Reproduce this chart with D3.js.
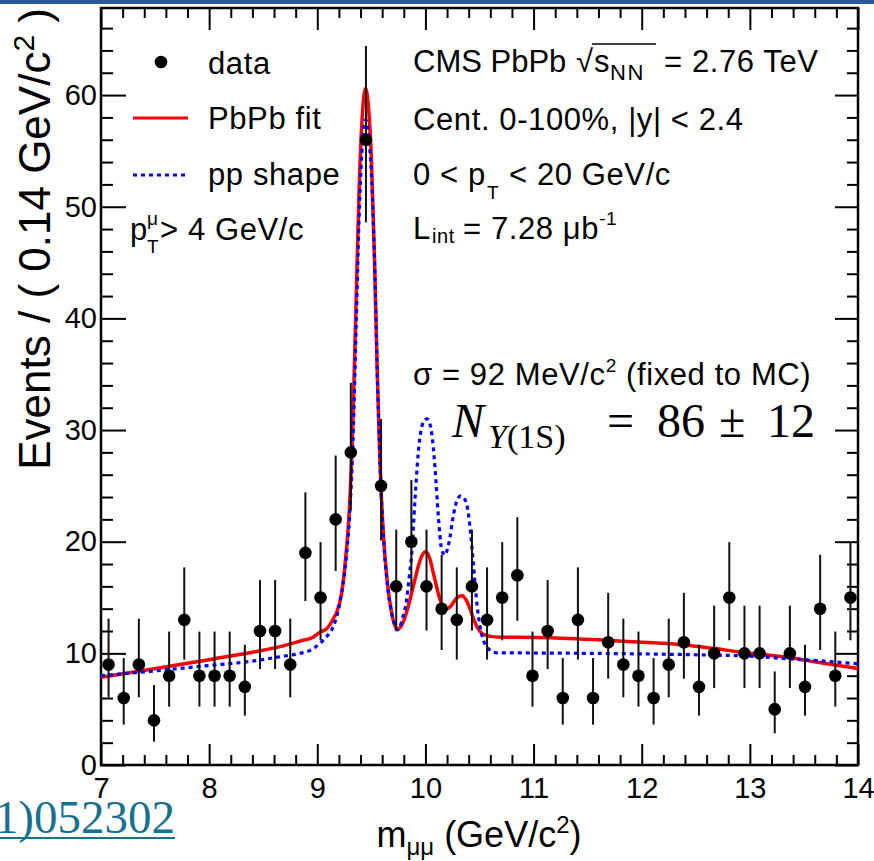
<!DOCTYPE html>
<html><head><meta charset="utf-8">
<script src="https://cdn.jsdelivr.net/npm/d3@7"></script>
<style>
html,body{margin:0;padding:0;background:#fff;}
svg text{font-family:"Liberation Sans",Arial,Helvetica,sans-serif;fill:#000;}
.serif{font-family:"Liberation Serif","DejaVu Serif",serif !important;}
.lab{letter-spacing:0.6px;}
</style></head>
<body>
<svg id="c" width="874" height="861"></svg>
<script>
// ---------- DATA ----------
const binCenters = [7.07,7.21,7.35,7.49,7.63,7.77,7.91,8.05,8.19,8.33,8.47,8.61,8.75,8.89,9.03,9.17,9.31,9.45,9.59,9.73,9.87,10.01,10.15,10.29,10.43,10.57,10.71,10.85,10.99,11.13,11.27,11.41,11.55,11.69,11.83,11.97,12.11,12.25,12.39,12.53,12.67,12.81,12.95,13.09,13.23,13.37,13.51,13.65,13.79,13.93];
const counts = [9,6,9,4,8,13,8,8,8,7,12,12,9,19,15,22,28,56,25,16,20,16,14,13,16,13,15,17,8,12,6,13,6,11,9,8,6,9,11,7,10,15,10,10,5,10,7,14,8,15];
const errLo = [2.94,2.38,2.94,1.91,2.77,3.56,2.77,2.77,2.77,2.58,3.41,3.41,2.94,4.31,3.83,4.62,5.16,7.4,4.90,3.96,4.42,3.96,3.70,3.56,3.96,3.56,3.83,4.08,2.77,3.41,2.38,3.56,2.38,3.27,2.94,2.77,2.38,2.94,3.27,2.58,3.11,3.83,3.11,3.11,2.16,3.11,2.58,3.70,2.77,3.83];
const errHi = [4.11,3.58,4.11,3.16,3.95,4.70,3.95,3.95,3.95,3.77,4.56,4.56,4.11,5.42,4.96,5.72,6.24,8.4,5.99,5.08,5.52,5.08,4.83,4.70,5.08,4.70,4.96,5.20,3.95,4.56,3.58,4.70,3.58,4.42,4.11,3.95,3.58,4.11,4.42,3.77,4.27,4.96,4.27,4.27,3.38,4.27,3.77,4.83,3.95,4.96];

const fitMass = [7.0,7.42,8.04,8.4,8.655,8.84,8.96,9.025,9.087,9.148,9.18,9.225,9.255,9.28,9.30,9.318,9.333,9.36,9.39,9.42,9.447,9.475,9.50,9.53,9.555,9.58,9.611,9.648,9.688,9.74,9.78,9.82,9.857,9.9,9.934,9.97,10.005,10.04,10.073,10.105,10.135,10.165,10.197,10.24,10.274,10.31,10.341,10.375,10.412,10.445,10.474,10.51,10.551,10.6,10.69,11.06,11.71,12.0,12.4,12.66,12.96,13.2,13.37,13.6,13.79,14.0];
const fitVal  = [7.85,8.5,9.5,10.1,10.6,11.1,11.45,11.9,12.2,13.1,13.7,15.4,17.8,20.5,23.5,27.5,32.0,42,52.5,58.7,60.6,58.7,54.5,45,35,27,20.7,16.3,13.6,12.15,12.5,13.5,14.8,16.5,17.8,18.8,19.1,18.5,17.2,15.9,14.8,14.2,14.0,14.3,14.8,15.1,15.15,14.8,14.0,13.1,12.4,11.9,11.64,11.52,11.45,11.43,11.15,11.0,10.75,10.45,10.05,9.8,9.6,9.25,8.95,8.64];

const ppMass = [7.0,7.42,8.04,8.4,8.655,8.84,8.96,9.025,9.087,9.148,9.195,9.225,9.25,9.27,9.30,9.33,9.36,9.39,9.42,9.447,9.475,9.50,9.53,9.555,9.58,9.611,9.648,9.688,9.715,9.735,9.76,9.79,9.826,9.85,9.872,9.903,9.934,9.96,9.985,10.017,10.04,10.058,10.088,10.12,10.15,10.18,10.205,10.227,10.25,10.274,10.3,10.326,10.355,10.381,10.4,10.418,10.44,10.458,10.48,10.505,10.535,10.567,10.61,10.66,11.0,11.5,12.0,12.6,13.0,13.37,13.7,14.0];
const ppVal  = [8.0,8.36,8.95,9.3,9.7,10.0,10.4,10.9,11.5,12.4,13.9,15.4,17.0,18.8,22.5,29.0,39.5,50,56,57.8,56.3,53,45,35,27,20.5,16.2,13.6,12.6,12.1,12.3,13.2,14.8,16.8,18.8,23.7,28.0,30.0,30.8,31.0,30.6,29.7,26.7,22.2,19.3,18.8,19.4,20.4,21.9,23.1,23.9,24.1,23.9,23.4,22.3,20.7,18.4,16.3,14.1,12.4,11.2,10.6,10.2,10.05,10.03,10.0,9.95,9.85,9.75,9.5,9.3,9.05];

const xMajor = [7,8,9,10,11,12,13,14];
const yMajor = [0,10,20,30,40,50,60];
const xDomain = [7,14];
const yDomain = [0,67.8];

// ---------- LAYOUT ----------
const svg = d3.select("#c");
const L=101, R=858, T=8, B=765;
const x = d3.scaleLinear().domain(xDomain).range([L,R]);
const y = d3.scaleLinear().domain(yDomain).range([B,T]);

svg.append("rect").attr("x",0).attr("y",0).attr("width",874).attr("height",4).attr("fill","#2b5797");

svg.append("text").attr("class","serif").attr("x",175).attr("y",833).attr("text-anchor","end")
  .style("font-size","47px").style("fill","#17708f").text("1)052302");
svg.append("line").attr("x1",0).attr("x2",175).attr("y1",838).attr("y2",838).attr("stroke","#17708f").attr("stroke-width",2);

const xMinor = d3.range(35,71).map(d=>d/5).filter(v=>!xMajor.includes(v));
const yMinor = d3.range(0,34).map(d=>d*2).filter(v=>!yMajor.includes(v) && v<=yDomain[1]);

function styleAxis(g){ g.select(".domain").remove(); g.selectAll("line").attr("stroke","#000").attr("stroke-width",2); }

svg.append("g").attr("transform",`translate(0,${B})`)
  .call(d3.axisBottom(x).tickValues(xMajor).tickSize(-21).tickPadding(12).tickFormat(d3.format("d")))
  .call(styleAxis).call(g=>g.selectAll("text").style("font-size","29px").attr("font-family",null));
svg.append("g").attr("transform",`translate(0,${B})`)
  .call(d3.axisBottom(x).tickValues(xMinor).tickSize(-10).tickFormat(""))
  .call(styleAxis);
svg.append("g").attr("transform",`translate(0,${T})`)
  .call(d3.axisTop(x).tickValues(xMajor).tickSize(-22).tickFormat("")).call(styleAxis);
svg.append("g").attr("transform",`translate(0,${T})`)
  .call(d3.axisTop(x).tickValues(xMinor).tickSize(-10).tickFormat("")).call(styleAxis);
svg.append("g").attr("transform",`translate(${L},0)`)
  .call(d3.axisLeft(y).tickValues(yMajor).tickSize(-25).tickPadding(4).tickFormat(d3.format("d")))
  .call(styleAxis).call(g=>g.selectAll("text").style("font-size","29px").attr("font-family",null));
svg.append("g").attr("transform",`translate(${L},0)`)
  .call(d3.axisLeft(y).tickValues(yMinor).tickSize(-12).tickFormat("")).call(styleAxis);
svg.append("g").attr("transform",`translate(${R},0)`)
  .call(d3.axisRight(y).tickValues(yMajor).tickSize(-23).tickFormat("")).call(styleAxis);
svg.append("g").attr("transform",`translate(${R},0)`)
  .call(d3.axisRight(y).tickValues(yMinor).tickSize(-11).tickFormat("")).call(styleAxis);

svg.append("rect").attr("x",L).attr("y",T).attr("width",R-L).attr("height",B-T)
  .attr("fill","none").attr("stroke","#000").attr("stroke-width",2.5);

const line = d3.line().x(d=>x(d[0])).y(d=>y(d[1])).curve(d3.curveMonotoneX);
const fitPts = fitMass.map((m,i)=>[m,fitVal[i]]);
const ppPts = ppMass.map((m,i)=>[m,ppVal[i]]);
svg.append("clipPath").attr("id","pc").append("rect").attr("x",L).attr("y",T).attr("width",R-L).attr("height",B-T);
svg.append("path").attr("d",line(fitPts)).attr("fill","none").attr("stroke","#ff0000").attr("stroke-width",3.5).attr("clip-path","url(#pc)");
svg.append("path").attr("d",line(ppPts)).attr("fill","none").attr("stroke","#0000ff").attr("stroke-width",3.2)
  .attr("stroke-dasharray","4,4").attr("clip-path","url(#pc)");

const pts = svg.append("g");
binCenters.forEach((m,i)=>{
  pts.append("line").attr("x1",x(m)).attr("x2",x(m)).attr("y1",y(counts[i]-errLo[i])).attr("y2",y(counts[i]+errHi[i]))
    .attr("stroke","#111").attr("stroke-width",2);
});
pts.selectAll("circle").data(binCenters).join("circle")
  .attr("cx",d=>x(d)).attr("cy",(d,i)=>y(counts[i])).attr("r",6.3).attr("fill","#000");

// axis titles
const yt = svg.append("text").attr("transform","translate(50,8) rotate(-90)").attr("text-anchor","end").style("font-size","44px");
yt.append("tspan").text("Events / ( 0.14 GeV/c");
yt.append("tspan").attr("dy",-16).style("font-size","30px").text("2");
yt.append("tspan").attr("dy",16).text(" )");

const xt = svg.append("text").attr("x",479).attr("y",847).attr("text-anchor","middle").style("font-size","36px");
xt.append("tspan").text("m");
xt.append("tspan").attr("dy",8).style("font-size","24px").text("μμ");
xt.append("tspan").attr("dy",-8).text(" (GeV/c");
xt.append("tspan").attr("dy",-14).style("font-size","24px").text("2");
xt.append("tspan").attr("dy",14).text(")");

// legend
const fs = "31px";
svg.append("circle").attr("cx",161).attr("cy",62).attr("r",6.3).attr("fill","#000");
svg.append("text").attr("class","lab").attr("x",208).attr("y",74).style("font-size",fs).text("data");
svg.append("line").attr("x1",133).attr("x2",188).attr("y1",118).attr("y2",118).attr("stroke","#ff0000").attr("stroke-width",3);
svg.append("text").attr("class","lab").attr("x",208).attr("y",129).style("font-size",fs).text("PbPb fit");
svg.append("line").attr("x1",133).attr("x2",188).attr("y1",175).attr("y2",175).attr("stroke","#0000ff").attr("stroke-width",3).attr("stroke-dasharray","4,4");
svg.append("text").attr("class","lab").attr("x",208).attr("y",185).style("font-size",fs).text("pp shape");
const pt = svg.append("text").attr("class","lab").attr("x",130).attr("y",240).style("font-size",fs);
pt.append("tspan").text("p");
pt.append("tspan").attr("x",147).attr("dy",-15).style("font-size","19px").text("μ");
pt.append("tspan").attr("x",147).attr("dy",28).style("font-size","19px").text("T");
pt.append("tspan").attr("x",160).attr("dy",-13).text("> 4 GeV/c");

// right labels
const t1 = svg.append("text").attr("class","lab").attr("x",413).attr("y",72).style("font-size",fs);
t1.append("tspan").style("letter-spacing","0px").text("CMS PbPb");
t1.append("tspan").attr("x",576).text("√");
t1.append("tspan").attr("x",594).text("s");
t1.append("tspan").attr("dy",8).style("font-size","22px").style("letter-spacing","1.5px").text("NN");
t1.append("tspan").attr("dy",-8).attr("x",664).text("= 2.76 TeV");
svg.append("line").attr("x1",592).attr("x2",656).attr("y1",44).attr("y2",44).attr("stroke","#000").attr("stroke-width",1.5);

svg.append("text").attr("class","lab").attr("x",413).attr("y",130).style("font-size",fs).text("Cent. 0-100%, |y| < 2.4");
const t3 = svg.append("text").attr("class","lab").attr("x",413).attr("y",185).style("font-size",fs);
t3.append("tspan").text("0 < p");
t3.append("tspan").attr("x",487).attr("dy",14).style("font-size","19px").text("T");
t3.append("tspan").attr("dy",-14).attr("x",509).text("< 20 GeV/c");
const t4 = svg.append("text").attr("class","lab").attr("x",413).attr("y",239).style("font-size",fs);
t4.append("tspan").text("L");
t4.append("tspan").attr("x",432).attr("dy",4).style("font-size","20px").text("int");
t4.append("tspan").attr("dy",-4).attr("x",463).text("= 7.28 μb");
t4.append("tspan").attr("dy",-14).style("font-size","19px").text("-1");

const t5 = svg.append("text").attr("class","lab").attr("x",413).attr("y",385).style("font-size",fs);
t5.append("tspan").text("σ = 92 MeV/c");
t5.append("tspan").attr("dy",-13).style("font-size","19px").text("2");
t5.append("tspan").attr("dy",13).text(" (fixed to MC)");

const nt = svg.append("text").attr("class","serif").attr("x",452).attr("y",437).style("font-size","48px");
nt.append("tspan").style("font-style","italic").text("N");
nt.append("tspan").attr("x",488).attr("dy",11).style("font-size","34px").style("font-style","italic").text("Υ");
nt.append("tspan").style("font-size","34px").text("(1S)");
nt.append("tspan").attr("dy",-11).attr("x",607).text("=");
nt.append("tspan").attr("x",657).text("86");
nt.append("tspan").attr("x",719).text("±");
nt.append("tspan").attr("x",767).text("12");
</script>
</body></html>
